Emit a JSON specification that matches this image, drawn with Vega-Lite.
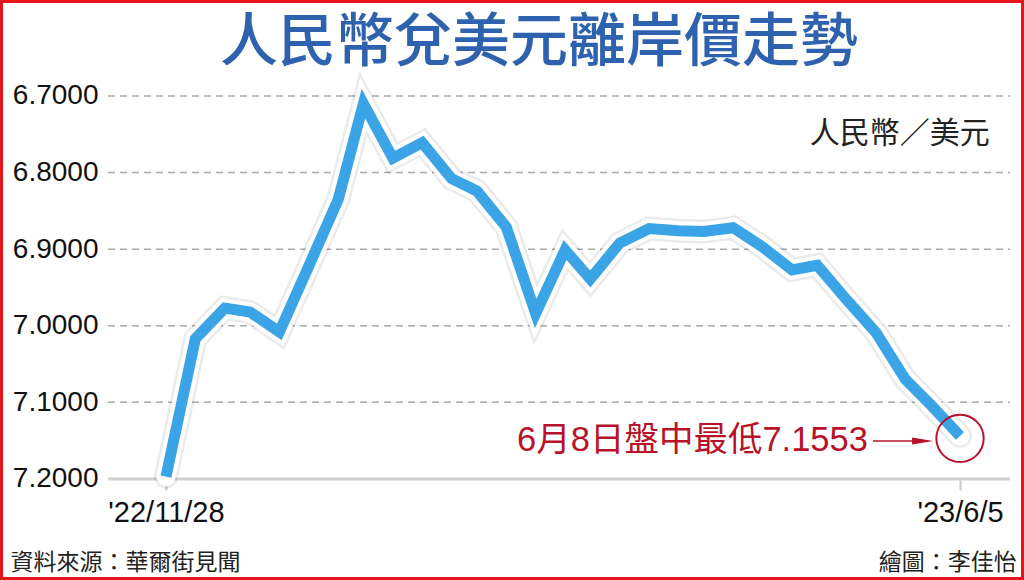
{
  "$schema": "https://vega.github.io/schema/vega-lite/v6.json",
  "width": 1024,
  "height": 580,
  "autosize": {"type": "none"},
  "padding": 0,
  "background": "white",
  "title": {"text": "人民幣兌美元離岸價走勢", "font": "Noto Sans CJK TC", "fontSize": 58, "fontWeight": 500, "color": "#2F62AE", "anchor": "middle", "frame": "group", "offset": -73, "dx": 27},
  "config": {"view": {"stroke": "#E8141B", "strokeWidth": 6}, "font": "Liberation Sans"},
  "data": {"values": [{}]},
  "datasets": {
    "fx": [
      {"date": "2022-11-28", "rate": 7.197},
      {"date": "2022-12-05", "rate": 7.017},
      {"date": "2022-12-12", "rate": 6.977},
      {"date": "2022-12-18", "rate": 6.982},
      {"date": "2022-12-25", "rate": 7.008},
      {"date": "2023-01-01", "rate": 6.922},
      {"date": "2023-01-08", "rate": 6.835},
      {"date": "2023-01-14", "rate": 6.710},
      {"date": "2023-01-21", "rate": 6.781},
      {"date": "2023-01-28", "rate": 6.761},
      {"date": "2023-02-04", "rate": 6.808},
      {"date": "2023-02-10", "rate": 6.824},
      {"date": "2023-02-17", "rate": 6.871},
      {"date": "2023-02-24", "rate": 6.984},
      {"date": "2023-03-03", "rate": 6.901},
      {"date": "2023-03-09", "rate": 6.939},
      {"date": "2023-03-16", "rate": 6.892},
      {"date": "2023-03-23", "rate": 6.873},
      {"date": "2023-03-30", "rate": 6.876},
      {"date": "2023-04-05", "rate": 6.877},
      {"date": "2023-04-12", "rate": 6.872},
      {"date": "2023-04-19", "rate": 6.897},
      {"date": "2023-04-26", "rate": 6.927},
      {"date": "2023-05-02", "rate": 6.921},
      {"date": "2023-05-09", "rate": 6.966},
      {"date": "2023-05-16", "rate": 7.009},
      {"date": "2023-05-23", "rate": 7.070},
      {"date": "2023-05-29", "rate": 7.103},
      {"date": "2023-06-05", "rate": 7.144}
    ],
    "grid": [{"v": 6.7}, {"v": 6.8}, {"v": 6.9}, {"v": 7.0}, {"v": 7.1}]
  },
  "layer": [
    {
      "data": {"name": "grid"},
      "mark": {"type": "rule", "color": "#a9a9a9", "strokeWidth": 1.5, "strokeDash": [7, 5]},
      "encoding": {
        "y": {"field": "v", "type": "quantitative", "scale": {"domain": [6.5747, 7.3319], "reverse": true, "zero": false, "nice": false},
          "axis": {"orient": "left", "offset": -100, "values": [6.7, 6.8, 6.9, 7.0, 7.1, 7.2], "format": ".4f", "domain": false, "ticks": false, "tickSize": 0, "labelPadding": 2, "labelFontSize": 28, "labelColor": "#111111", "labelOverlap": false, "grid": false, "title": null}},
        "x": {"datum": {"year": 2022, "month": 11, "date": 14, "hours": 5, "utc": true}, "type": "temporal",
          "scale": {"type": "utc", "domain": [{"year": 2022, "month": 10, "date": 19, "hours": 12, "utc": true}, {"year": 2023, "month": 6, "date": 20, "hours": 5, "minutes": 30, "utc": true}]},
          "axis": {"orient": "bottom", "offset": -100, "values": [{"year": 2022, "month": 11, "date": 28, "utc": true}, {"year": 2023, "month": 6, "date": 5, "utc": true}], "labelExpr": "\"'\" + utcFormat(datum.value, '%y') + '/' + (utcmonth(datum.value) + 1) + '/' + utcdate(datum.value)", "domain": false, "ticks": true, "tickSize": 10, "tickColor": "#c8c8c8", "tickWidth": 2, "labelPadding": 8, "labelFontSize": 29, "labelColor": "#111111", "labelFlush": false, "labelOverlap": false, "grid": false, "title": null}},
        "x2": {"datum": {"year": 2023, "month": 6, "date": 16, "hours": 22, "utc": true}}
      }
    },
    {
      "mark": {"type": "rule", "color": "#cfcfcf", "strokeWidth": 3},
      "encoding": {
        "y": {"datum": 7.2, "type": "quantitative"},
        "x": {"datum": {"year": 2022, "month": 11, "date": 14, "hours": 5, "utc": true}, "type": "temporal"},
        "x2": {"datum": {"year": 2023, "month": 6, "date": 16, "hours": 22, "utc": true}}
      }
    },
    {
      "data": {"name": "fx"},
      "mark": {"type": "line", "color": "#000000", "opacity": 0.08, "strokeWidth": 24, "strokeJoin": "miter", "strokeCap": "round"},
      "encoding": {
        "x": {"field": "date", "type": "temporal"},
        "y": {"field": "rate", "type": "quantitative"}
      }
    },
    {
      "data": {"name": "fx"},
      "mark": {"type": "line", "color": "#ffffff", "strokeWidth": 19, "strokeJoin": "miter", "strokeCap": "round"},
      "encoding": {
        "x": {"field": "date", "type": "temporal"},
        "y": {"field": "rate", "type": "quantitative"}
      }
    },
    {
      "data": {"name": "fx"},
      "mark": {"type": "line", "color": "#3AA4E6", "strokeWidth": 11, "strokeJoin": "miter", "strokeCap": "butt"},
      "encoding": {
        "x": {"field": "date", "type": "temporal"},
        "y": {"field": "rate", "type": "quantitative"}
      }
    },
    {
      "mark": {"type": "point", "shape": "circle", "filled": false, "stroke": "#B8122A", "strokeWidth": 2, "size": 2240, "opacity": 1},
      "encoding": {
        "x": {"datum": {"year": 2023, "month": 6, "date": 5, "utc": true}, "type": "temporal"},
        "y": {"datum": 7.147, "type": "quantitative"}
      }
    },
    {
      "mark": {"type": "rule", "color": "#B8122A", "strokeWidth": 1.5},
      "encoding": {
        "x": {"datum": {"year": 2023, "month": 5, "date": 15, "hours": 7, "utc": true}, "type": "temporal"},
        "x2": {"datum": {"year": 2023, "month": 5, "date": 27, "hours": 16, "utc": true}},
        "y": {"datum": 7.1504, "type": "quantitative"}
      }
    },
    {
      "mark": {"type": "point", "shape": "M-1,-0.33L1,0L-1,0.33Z", "filled": true, "color": "#B8122A", "size": 441, "opacity": 1},
      "encoding": {
        "x": {"datum": {"year": 2023, "month": 5, "date": 27, "hours": 2, "utc": true}, "type": "temporal"},
        "y": {"datum": 7.1504, "type": "quantitative"}
      }
    },
    {
      "mark": {"type": "text", "text": "6月8日盤中最低7.1553", "font": "Liberation Sans, Noto Sans CJK TC", "fontSize": 34.5, "color": "#B8122A", "align": "right", "baseline": "middle"},
      "encoding": {
        "x": {"datum": {"year": 2023, "month": 5, "date": 14, "hours": 2, "utc": true}, "type": "temporal"},
        "y": {"datum": 7.1504, "type": "quantitative"}
      }
    },
    {
      "mark": {"type": "text", "text": "人民幣／美元", "font": "Noto Sans CJK TC", "fontSize": 30, "color": "#222222", "align": "right", "baseline": "middle"},
      "encoding": {
        "x": {"datum": {"year": 2023, "month": 6, "date": 12, "hours": 2, "utc": true}, "type": "temporal"},
        "y": {"datum": 6.7496, "type": "quantitative"}
      }
    },
    {
      "mark": {"type": "text", "text": "資料來源：華爾街見聞", "font": "Noto Sans CJK TC", "fontSize": 23, "color": "#222222", "align": "left", "baseline": "middle"},
      "encoding": {
        "x": {"datum": {"year": 2022, "month": 10, "date": 22, "utc": true}, "type": "temporal"},
        "y": {"datum": 7.3095, "type": "quantitative"}
      }
    },
    {
      "mark": {"type": "text", "text": "繪圖：李佳怡", "font": "Noto Sans CJK TC", "fontSize": 23, "color": "#222222", "align": "right", "baseline": "middle"},
      "encoding": {
        "x": {"datum": {"year": 2023, "month": 6, "date": 18, "hours": 12, "utc": true}, "type": "temporal"},
        "y": {"datum": 7.3095, "type": "quantitative"}
      }
    }
  ]
}
